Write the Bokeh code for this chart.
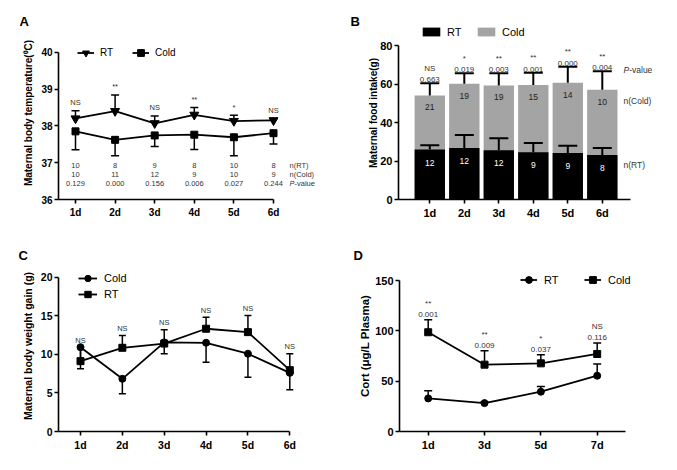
from bokeh.plotting import figure
from bokeh.layouts import column, row
from bokeh.models import ColumnDataSource, Whisker, TeeHead, Legend, LegendItem, FixedTicker
from bokeh.core.properties import value
from bokeh.embed import file_html
from bokeh.resources import INLINE

FONT = "Liberation Sans"

# ---------------- data ----------------
# Panel A: maternal body temperature
a_days = ["1d", "2d", "3d", "4d", "5d", "6d"]
a_rt = [38.20, 38.40, 38.07, 38.30, 38.13, 38.15]
a_rt_err = [38.41, 38.84, 38.27, 38.50, 38.29, 38.20]
a_cold = [37.85, 37.62, 37.74, 37.76, 37.69, 37.80]
a_cold_err = [37.35, 37.19, 37.44, 37.36, 37.19, 37.51]
a_sig = ["NS", "**", "NS", "**", "*", "NS"]
a_n_rt = ["10", "8", "9", "8", "10", "8"]
a_n_cold = ["10", "11", "12", "9", "10", "9"]
a_p = ["0.129", "0.000", "0.156", "0.006", "0.027", "0.244"]
a_yticks = [36, 37, 38, 39, 40]

# Panel B: maternal food intake
b_days = ["1d", "2d", "3d", "4d", "5d", "6d"]
b_rt = [26.0, 26.8, 25.6, 24.6, 24.2, 23.2]
b_rt_err = [28.2, 33.5, 31.8, 29.4, 28.0, 26.8]
b_cold = [54.1, 60.2, 59.3, 59.5, 60.7, 57.1]
b_cold_err = [60.4, 65.7, 65.7, 65.9, 69.0, 66.7]
b_sig = ["NS", "*", "**", "**", "**", "**"]
b_p = ["0.663", "0.019", "0.003", "0.001", "0.000", "0.004"]
b_n_rt = ["12", "12", "12", "9", "9", "8"]
b_n_cold = ["21", "19", "19", "15", "14", "10"]
b_yticks = [0, 20, 40, 60, 80]

# Panel C: maternal body weight gain
c_days = ["1d", "2d", "3d", "4d", "5d", "6d"]
c_cold = [10.93, 6.83, 11.55, 11.50, 10.08, 7.60]
c_cold_err = [8.13, 4.89, 10.07, 8.99, 7.04, 5.41]
c_rt = [9.12, 10.85, 11.40, 13.32, 12.88, 7.95]
c_rt_err = [10.90, 12.45, 13.20, 14.82, 15.05, 10.08]
c_sig = ["NS", "NS", "NS", "NS", "NS", "NS"]
c_yticks = [0, 5, 10, 15, 20]

# Panel D: corticosterone
d_days = ["1d", "3d", "5d", "7d"]
d_rt = [32.9, 28.2, 39.5, 55.4]
d_rt_err = [40.5, 29.5, 44.8, 67.0]
d_cold = [98.6, 66.4, 67.7, 77.0]
d_cold_err = [110.9, 80.3, 76.3, 88.0]
d_sig = ["**", "**", "*", "NS"]
d_p = ["0.001", "0.009", "0.037", "0.116"]
d_yticks = [0, 50, 100, 150]


def base_fig(w, h, xr, yr, left, bottom, top, letter, letter_off):
    p = figure(width=w, height=h, x_range=xr, y_range=yr, output_backend="svg",
               toolbar_location=None, min_border_left=left, min_border_right=0,
               min_border_top=top, min_border_bottom=bottom, title=letter)
    p.grid.grid_line_color = None
    p.outline_line_color = None
    p.background_fill_color = "white"
    p.border_fill_color = "white"
    t = p.title
    t.align = "left"
    t.offset = letter_off
    t.standoff = -4
    t.vertical_align = "bottom"
    t.text_font = FONT
    t.text_font_size = "13px"
    t.text_font_style = "bold"
    t.text_color = "black"
    return p


def style_axes(p, labels, xbounds, yticks, ybounds, tick_fs, ylabel, label_fs, standoff):
    xs = list(range(1, len(labels) + 1))
    xa = p.xaxis[0]
    ya = p.yaxis[0]
    xa.ticker = FixedTicker(ticks=xs)
    xa.major_label_overrides = {t: l for t, l in zip(xs, labels)}
    ya.ticker = FixedTicker(ticks=yticks)
    xa.bounds = xbounds
    ya.bounds = ybounds
    for ax in (xa, ya):
        ax.axis_line_width = 1.6
        ax.axis_line_color = "black"
        ax.major_tick_line_width = 1.6
        ax.major_tick_line_color = "black"
        ax.major_tick_out = 4
        ax.major_tick_in = 0
        ax.minor_tick_line_color = None
        ax.major_label_text_font = FONT
        ax.major_label_text_font_style = "bold"
        ax.major_label_text_font_size = tick_fs
        ax.major_label_text_color = "black"
    ya.major_label_standoff = 2
    xa.major_label_standoff = 3
    ya.axis_label = ylabel
    ya.axis_label_text_font = FONT
    ya.axis_label_text_font_style = "bold"
    ya.axis_label_text_font_size = label_fs
    ya.axis_label_text_color = "black"
    ya.axis_label_standoff = standoff
    return xs


def whisk(p, xs, lo, hi, up, size, lw=1.5):
    src = ColumnDataSource(dict(x=xs, lo=lo, hi=hi))
    head = TeeHead(size=size, line_width=lw, line_color="black")
    w = Whisker(source=src, base="x", lower="lo", upper="hi",
                upper_head=head if up else None, lower_head=None if up else head,
                line_width=lw, line_color="black", level="annotation")
    p.add_layout(w)


def txt(p, xs, ys, texts, fs, yoff=0, color="#333333", align="center", style="normal", baseline="middle"):
    p.text(x=xs, y=ys, text=texts, text_font=value(FONT), text_font_size=fs,
           text_align=align, text_baseline=baseline, y_offset=yoff, text_color=color,
           text_font_style=style)


# ---------------- Panel A ----------------
A_SP, A_X1, A_L, A_T = 39.6, 75.0, 58.0, 26
xa0 = 1 - (A_X1 - A_L) / A_SP
xa1 = 1 + (340 - A_X1) / A_SP
ya_px = (199 - 51.7) / 4
ya1 = 40 + (51.7 - A_T) / ya_px
pA = base_fig(340, 235, (xa0, xa1), (36, ya1), 58, 36, A_T, "A", -39)
xsA = style_axes(pA, a_days, (xa0, len(a_days)), a_yticks, (a_yticks[0], a_yticks[-1]),
                 "10px", "Maternal body temperature(\u2070C)", "10px", 4)
whisk(pA, xsA, a_rt, a_rt_err, True, 8)
whisk(pA, xsA, a_cold_err, a_cold, False, 8)
lA1 = pA.line(xsA, a_rt, line_width=1.8, color="black")
sA1 = pA.scatter(xsA, a_rt, marker="inverted_triangle", size=9, color="black")
lA2 = pA.line(xsA, a_cold, line_width=1.8, color="black")
sA2 = pA.scatter(xsA, a_cold, marker="square", size=7, color="black")
txt(pA, xsA, a_rt_err, a_sig, "7.5px", yoff=-8)
A_ROWS = [36.92, 36.68, 36.43]
txt(pA, xsA, [A_ROWS[0]] * len(xsA), a_n_rt, "7.5px")
txt(pA, xsA, [A_ROWS[1]] * len(xsA), a_n_cold, "7.5px")
txt(pA, xsA, [A_ROWS[2]] * len(xsA), a_p, "7.5px")
A_LX = 1 + (289 - A_X1) / A_SP
txt(pA, [A_LX, A_LX], A_ROWS[:2], ["n(RT)", "n(Cold)"], "7.5px", align="left")
txt(pA, [A_LX], [A_ROWS[2]], ["P"], "7.5px", align="left", style="italic")
pA.text(x=[A_LX], y=[A_ROWS[2]], text=["-value"], text_font=value(FONT), text_font_size="7.5px",
        text_align="left", text_baseline="middle", x_offset=5, text_color="#333333")
legA = Legend(items=[LegendItem(label=value("RT"), renderers=[lA1, sA1]),
                     LegendItem(label=value("Cold"), renderers=[lA2, sA2])],
              orientation="horizontal", location=(19, 147 - 8.5), glyph_width=17, glyph_height=17,
              label_height=17, label_standoff=6, spacing=12, padding=0, margin=0,
              border_line_color=None, background_fill_alpha=0,
              label_text_font=FONT, label_text_font_size="10px", label_text_color="black")
pA.add_layout(legA)

# ---------------- Panel B ----------------
B_SP, B_X1, B_L, B_T = 34.5, 429.3, 398.0, 25
xb0 = 1 - (B_X1 - B_L) / B_SP
xb1 = 1 + (677 - B_X1) / B_SP
yb_px = (199 - 44.3) / 80
yb1 = (199 - B_T) / yb_px
pB = base_fig(337, 235, (xb0, xb1), (0, yb1), 58, 36, B_T, "B", -48)
xsB = style_axes(pB, b_days, (xb0, 1 + (630 - B_X1) / B_SP), b_yticks, (b_yticks[0], b_yticks[-1]),
                 "11px", "Maternal food intake(g)", "10px", -2)
bC = pB.vbar(x=xsB, top=b_cold, width=0.88, fill_color="#a4a4a4", line_color=None)
bR = pB.vbar(x=xsB, top=b_rt, width=0.88, fill_color="black", line_color=None)
whisk(pB, xsB, b_cold, b_cold_err, True, 19, lw=2)
whisk(pB, xsB, b_rt, b_rt_err, True, 19, lw=2)
txt(pB, xsB, b_cold_err, b_p, "8px", yoff=-1, baseline="bottom")
txt(pB, xsB, b_cold_err, b_sig, "8px", yoff=-15)
txt(pB, xsB, b_cold, b_n_cold, "8.5px", yoff=12, color="#222222")
txt(pB, xsB, b_rt, b_n_rt, "8.5px", yoff=13, color="white")
B_LX = 1 + (623 - B_X1) / B_SP
txt(pB, [B_LX, B_LX], [51.2, 18.2], ["n(Cold)", "n(RT)"], "8.5px", align="left")
txt(pB, [B_LX], [67.6], ["P"], "8.5px", align="left", style="italic")
pB.text(x=[B_LX], y=[67.6], text=["-value"], text_font=value(FONT), text_font_size="8.5px",
        text_align="left", text_baseline="middle", x_offset=5.7, text_color="#333333")
legB = Legend(items=[LegendItem(label=value("RT"), renderers=[bR]),
                     LegendItem(label=value("Cold"), renderers=[bC])],
              orientation="horizontal", location=(22, 167 - 5.5), glyph_width=22, glyph_height=11,
              label_height=11, label_standoff=5, spacing=8, padding=0, margin=0,
              border_line_color=None, background_fill_alpha=0,
              label_text_font=FONT, label_text_font_size="11px", label_text_color="black")
pB.add_layout(legB)

# ---------------- Panel C ----------------
C_SP, C_X1, C_L, C_T = 41.86, 80.0, 58.0, 25
xc0 = 1 - (C_X1 - C_L) / C_SP
xc1 = 1 + (340 - C_X1) / C_SP
yc_px = (431 - 276.7) / 20
yc1 = (196 - C_T) / yc_px
pC = base_fig(340, 235, (xc0, xc1), (0, yc1), 58, 39, C_T, "C", -40)
xsC = style_axes(pC, c_days, (xc0, len(c_days)), c_yticks, (c_yticks[0], c_yticks[-1]),
                 "10.5px", "Maternal body weight gain (g)", "10.5px", 4)
whisk(pC, xsC, c_rt, c_rt_err, True, 7)
whisk(pC, xsC, c_cold_err, c_cold, False, 7)
lC1 = pC.line(xsC, c_cold, line_width=1.8, color="black")
sC1 = pC.scatter(xsC, c_cold, marker="circle", size=7, color="black")
lC2 = pC.line(xsC, c_rt, line_width=1.8, color="black")
sC2 = pC.scatter(xsC, c_rt, marker="square", size=7, color="black")
c_top = [max(a, b, c) for a, b, c in zip(c_rt_err, c_cold, c_rt)]
txt(pC, xsC, c_top, c_sig, "7.5px", yoff=-7)
legC = Legend(items=[LegendItem(label=value("Cold"), renderers=[lC1, sC1]),
                     LegendItem(label=value("RT"), renderers=[lC2, sC2])],
              orientation="vertical", location=(20, 136.7 - 8), glyph_width=19, glyph_height=16,
              label_height=16, label_standoff=7, spacing=0, padding=0, margin=0,
              border_line_color=None, background_fill_alpha=0,
              label_text_font=FONT, label_text_font_size="11px", label_text_color="black")
pC.add_layout(legC)

# ---------------- Panel D ----------------
D_SP, D_X1, D_L, D_T = 56.33, 427.7, 399.0, 25
xd0 = 1 - (D_X1 - D_L) / D_SP
xd1 = 1 + (677 - D_X1) / D_SP
yd_px = (431 - 280) / 150
yd1 = (196 - D_T) / yd_px
pD = base_fig(337, 235, (xd0, xd1), (0, yd1), 59, 39, D_T, "D", -46)
xsD = style_axes(pD, d_days, (xd0, 1 + (625 - D_X1) / D_SP), d_yticks, (d_yticks[0], d_yticks[-1]),
                 "11px", "Cort (\u03bcg/L Plasma)", "11.5px", 1)
whisk(pD, xsD, d_rt, d_rt_err, True, 8)
whisk(pD, xsD, d_cold, d_cold_err, True, 8)
lD1 = pD.line(xsD, d_rt, line_width=1.8, color="black")
sD1 = pD.scatter(xsD, d_rt, marker="circle", size=7, color="black")
lD2 = pD.line(xsD, d_cold, line_width=1.8, color="black")
sD2 = pD.scatter(xsD, d_cold, marker="square", size=7, color="black")
txt(pD, xsD, d_cold_err, d_p, "8px", yoff=-5.5)
txt(pD, xsD, d_cold_err, d_sig, "8px", yoff=-16)
legD = Legend(items=[LegendItem(label=value("RT"), renderers=[lD1, sD1]),
                     LegendItem(label=value("Cold"), renderers=[lD2, sD2])],
              orientation="horizontal", location=(121, 151.4 - 8.5), glyph_width=17, glyph_height=17,
              label_height=17, label_standoff=7, spacing=20, padding=0, margin=0,
              border_line_color=None, background_fill_alpha=0,
              label_text_font=FONT, label_text_font_size="11px", label_text_color="black")
pD.add_layout(legD)

layout = column(row(pA, pB, spacing=0), row(pC, pD, spacing=0), spacing=0)
open("out.html", "w").write(file_html(layout, INLINE))
